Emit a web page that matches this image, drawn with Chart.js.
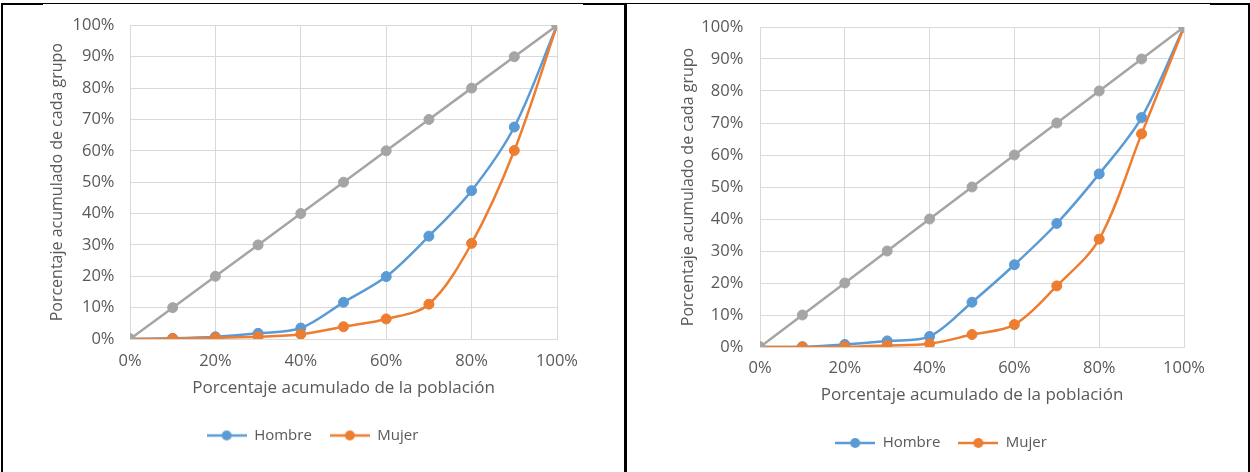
<!DOCTYPE html>
<html lang="es">
<head>
<meta charset="utf-8">
<title>Curvas de Lorenz por sexo</title>
<script src="https://cdn.jsdelivr.net/npm/chart.js@4.4.1/dist/chart.umd.min.js"></script>
<style>
  html, body { margin: 0; padding: 0; background: #ffffff; overflow: hidden; }
  body { width: 1250px; height: 472px; position: relative; }
  canvas { position: absolute; top: 0; }
  #izq { left: 0; }
  #der { left: 632px; }
  .rule { position: absolute; background: #000000; z-index: 2; }
</style>
</head>
<body>
<canvas id="izq" width="625" height="472"></canvas>
<canvas id="der" width="618" height="472"></canvas>

<!-- table frame around the two charts -->
<div class="rule" style="left:1px;top:3px;width:1249px;height:1px"></div>
<div class="rule" style="left:1px;top:3px;width:42px;height:2px"></div>
<div class="rule" style="left:583px;top:3px;width:42px;height:2px"></div>
<div class="rule" style="left:1210px;top:3px;width:40px;height:2px"></div>
<div class="rule" style="left:1px;top:3px;width:2px;height:469px"></div>
<div class="rule" style="left:624px;top:3px;width:3px;height:469px"></div>
<div class="rule" style="left:1248px;top:3px;width:2px;height:469px"></div>

<script>
// Cumulative share of population (x) and line of equality
const poblacion = [0, 10, 20, 30, 40, 50, 60, 70, 80, 90, 100];
const igualdad  = [0, 10, 20, 30, 40, 50, 60, 70, 80, 90, 100];

// Left chart: cumulative share held by each group
const hombreIzq = [0, 0.2, 0.7, 1.8, 3.5, 11.7, 19.9, 32.8, 47.3, 67.6, 100];
const mujerIzq  = [0, 0.1, 0.4, 0.7, 1.5, 3.9, 6.4, 11.1, 30.5, 60.1, 100];

// Right chart: cumulative share held by each group
const hombreDer = [0, 0.1, 0.8, 1.9, 3.3, 14.0, 25.7, 38.6, 54.1, 71.7, 100];
const mujerDer  = [0, 0.0, 0.1, 0.5, 1.0, 3.9, 7.0, 19.1, 33.7, 66.6, 100];

// Axis ticks and texts
const ticksX = [0, 20, 40, 60, 80, 100];
const ticksY = [0, 10, 20, 30, 40, 50, 60, 70, 80, 90, 100];
const tituloX = 'Porcentaje acumulado de la población';
const tituloY = 'Porcentaje acumulado de cada grupo';
const nombres = ['Igualdad', 'Mujer', 'Hombre'];

const AZUL = '#5B9BD5';
const NARANJA = '#ED7D31';
const GRIS = '#A5A5A5';
const TEXTO = '#595959';
const REJILLA = '#D9D9D9';
const FUENTE = "'Open Sans', 'Noto Sans', sans-serif";
const TAM_TICK = 16.5;

// Legend swatch: a short line with a marker in the middle
function muestra(color) {
  const c = document.createElement('canvas');
  c.width = 40; c.height = 12;
  const g = c.getContext('2d');
  g.strokeStyle = color; g.lineWidth = 2.5;
  g.beginPath(); g.moveTo(0, 6); g.lineTo(40, 6); g.stroke();
  g.fillStyle = color;
  g.beginPath(); g.arc(20, 6, 5, 0, Math.PI * 2); g.fill();
  return c;
}
const muestras = { 1: muestra(NARANJA), 2: muestra(AZUL) };

function puntos(valores) {
  return poblacion.map((x, i) => ({ x: x, y: valores[i] }));
}

function serie(label, valores, color, curva) {
  return {
    label: label,
    data: puntos(valores),
    borderColor: color,
    backgroundColor: color,
    borderWidth: 2.5,
    pointRadius: 5,
    pointBorderWidth: 1,
    pointBorderColor: color,
    pointBackgroundColor: color,
    pointStyle: 'circle',
    tension: curva ? 0.33 : 0,
    fill: false
  };
}

function grafico(id, hombre, mujer, g) {
  const fijarTicks = (scale, valores) => {
    scale.ticks = valores.map(v => ({ value: v }));
  };
  return new Chart(document.getElementById(id), {
    type: 'line',
    data: {
      // drawn last-to-first, so the equality line sits on top
      datasets: [
        serie(nombres[0], igualdad, GRIS, false),
        serie(nombres[1], mujer, NARANJA, true),
        serie(nombres[2], hombre, AZUL, true)
      ]
    },
    options: {
      responsive: false,
      animation: false,
      devicePixelRatio: 1,
      layout: { padding: { top: g.top, left: 0, right: 0, bottom: g.bottom } },
      plugins: {
        tooltip: { enabled: false },
        legend: {
          position: 'bottom',
          labels: {
            color: TEXTO,
            font: { family: FUENTE, size: 15 },
            usePointStyle: true,
            pointStyleWidth: 40,
            padding: 18,
            filter: item => item.datasetIndex !== 0,
            sort: (a, b) => b.datasetIndex - a.datasetIndex,
            generateLabels: chart => {
              const base = Chart.defaults.plugins.legend.labels.generateLabels(chart);
              return base.map(item => Object.assign(item, {
                pointStyle: muestras[item.datasetIndex] || item.pointStyle
              }));
            }
          }
        }
      },
      scales: {
        x: {
          type: 'linear',
          min: 0, max: 100,
          afterBuildTicks: s => fijarTicks(s, ticksX),
          grid: { color: REJILLA, lineWidth: 1, drawTicks: false },
          border: { display: true, color: REJILLA, width: 1 },
          ticks: {
            color: TEXTO,
            font: { family: FUENTE, size: TAM_TICK },
            padding: g.tickPadX,
            maxRotation: 0,
            callback: v => v + '%'
          },
          title: {
            display: true,
            text: tituloX,
            color: TEXTO,
            font: { family: FUENTE, size: 17 },
            padding: { top: 0, bottom: g.titlePadX }
          },
          afterFit: s => { s.height = g.alturaX; }
        },
        y: {
          type: 'linear',
          min: 0, max: 100,
          afterBuildTicks: s => fijarTicks(s, ticksY),
          grid: { color: REJILLA, lineWidth: 1, drawTicks: false },
          border: { display: true, color: REJILLA, width: 1 },
          ticks: {
            color: TEXTO,
            font: { family: FUENTE, size: TAM_TICK },
            padding: g.tickPadY,
            callback: v => v + '%'
          },
          title: {
            display: true,
            text: tituloY,
            color: TEXTO,
            font: { family: FUENTE, size: 16 },
            padding: { top: g.titlePadY, bottom: 0 }
          },
          afterFit: s => { s.width = g.anchoY; }
        },
        // empty right-hand strip keeping the plot clear of the cell edge
        margen: {
          type: 'linear',
          position: 'right',
          display: true,
          grid: { display: false },
          border: { display: false },
          ticks: { display: false },
          afterFit: s => { s.width = g.margenDer; }
        }
      }
    }
  });
}

grafico('izq', hombreIzq, mujerIzq, {
  top: 17, bottom: 19,
  anchoY: 130, tickPadY: 15.5, titlePadY: 47.4,
  alturaX: 71, tickPadX: 12, titlePadX: 11.8,
  margenDer: 68
});

grafico('der', hombreDer, mujerDer, {
  top: 27, bottom: 11.5,
  anchoY: 128, tickPadY: 16.7, titlePadY: 46.4,
  alturaX: 70.5, tickPadX: 11, titlePadX: 12.3,
  margenDer: 66
});
</script>
</body>
</html>
